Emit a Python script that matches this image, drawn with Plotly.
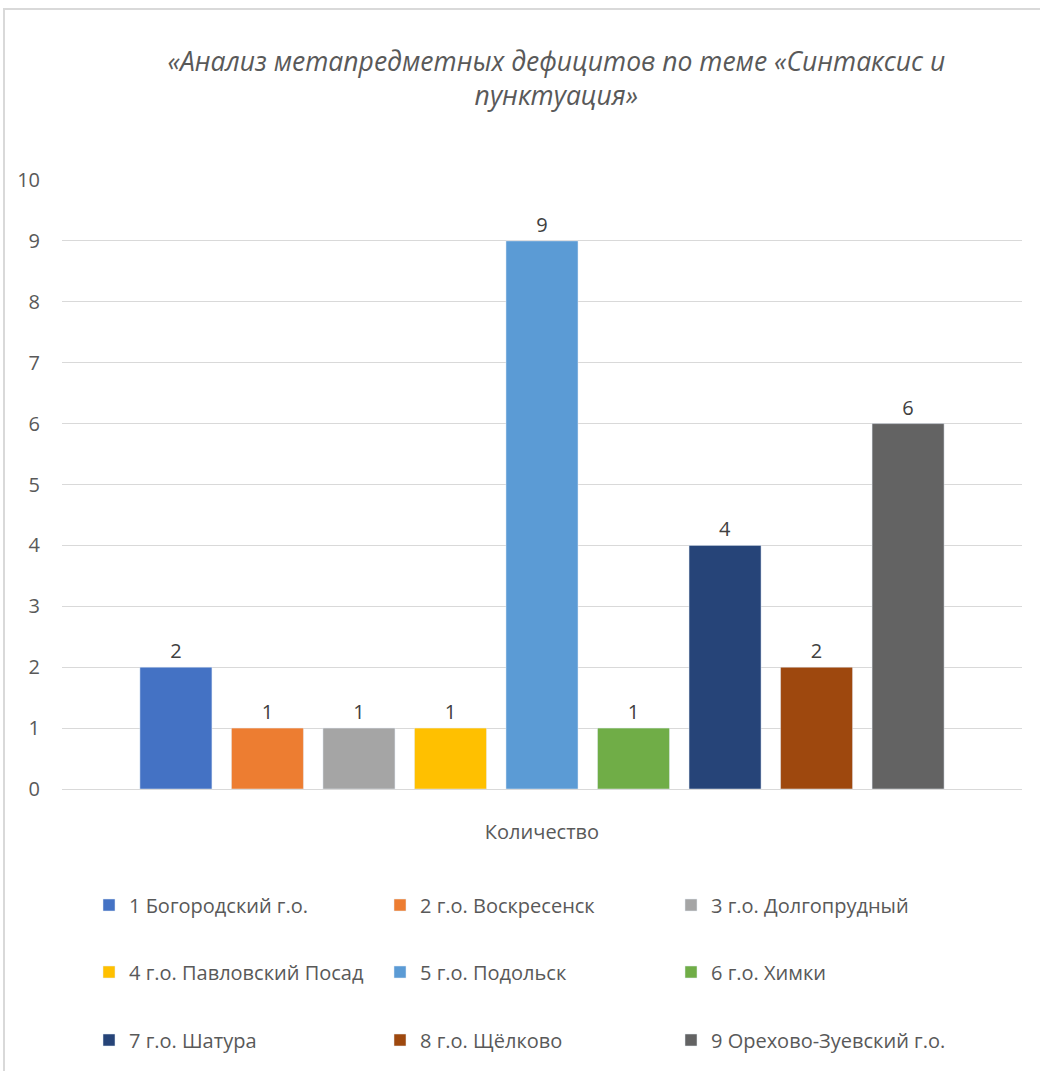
import plotly.graph_objects as go

categories = ["Количество"]
series_names = ["1 Богородский г.о.", "2 г.о. Воскресенск", "3 г.о. Долгопрудный",
                "4 г.о. Павловский Посад", "5 г.о. Подольск", "6 г.о. Химки",
                "7 г.о. Шатура", "8 г.о. Щёлково", "9 Орехово-Зуевский г.о."]
values = [2, 1, 1, 1, 9, 1, 4, 2, 6]
colors = ["#4472C4", "#ED7D31", "#A5A5A5", "#FFC000", "#5B9BD5",
          "#70AD47", "#264478", "#9E480E", "#636363"]
y_ticks = list(range(0, 11))

FONT = "'Open Sans', Lato, sans-serif"
legend_ids = ["legend", "legend2", "legend3"]

fig = go.Figure()
for i, (name, val, col) in enumerate(zip(series_names, values, colors)):
    fig.add_trace(go.Bar(
        x=categories, y=[val], name=name, marker_color=col,
        text=[str(val)], textposition="outside", cliponaxis=False,
        textfont=dict(size=20, color="#404040", family=FONT),
        legend=legend_ids[i // 3],
    ))

H = 1071
leg_common = dict(orientation="h", entrywidth=246, entrywidthmode="pixels",
                  font=dict(size=20, color="#595959", family=FONT),
                  xref="container", yref="container",
                  xanchor="left", yanchor="middle", bgcolor="rgba(0,0,0,0)",
                  itemwidth=30, traceorder="normal")

fig.update_layout(
    width=1040, height=H,
    margin=dict(l=62, r=18, t=180, b=282),
    paper_bgcolor="white", plot_bgcolor="white",
    barmode="group", bargap=0.142, bargroupgap=0.213,
    showlegend=True,
    title=dict(text="<i>«Анализ метапредметных дефицитов по теме «Синтаксис и<br>пунктуация»</i>",
               x=0.535, xanchor="center", y=0.934, yanchor="middle",
               font=dict(size=26.5, color="#595959", family=FONT)),
    legend=dict(x=89 / 1040, y=1 - 905 / H, **leg_common),
    legend2=dict(x=89 / 1040, y=1 - 972 / H, **leg_common),
    legend3=dict(x=89 / 1040, y=1 - 1040 / H, **leg_common),
    xaxis=dict(showgrid=False, showline=False, ticks="",
               tickfont=dict(size=20, color="#595959", family=FONT),
               ticklabelstandoff=29),
    yaxis=dict(range=[0, 10], tickvals=y_ticks, showgrid=True, gridcolor="#D9D9D9",
               gridwidth=1, zeroline=True, zerolinecolor="#D9D9D9", zerolinewidth=1,
               tickfont=dict(size=20, color="#595959", family=FONT), ticklabelstandoff=21),
    shapes=[dict(type="rect", xref="paper", yref="paper",
                 x0=(4 - 62) / 960, x1=1.2, y0=-0.6, y1=(789 - 9) / 609,
                 line=dict(color="#D9D9D9", width=2), fillcolor="rgba(0,0,0,0)",
                 layer="below")],
)

fig.write_html("out.html", config={"displayModeBar": False},
               post_script="document.body.style.margin='0';")
